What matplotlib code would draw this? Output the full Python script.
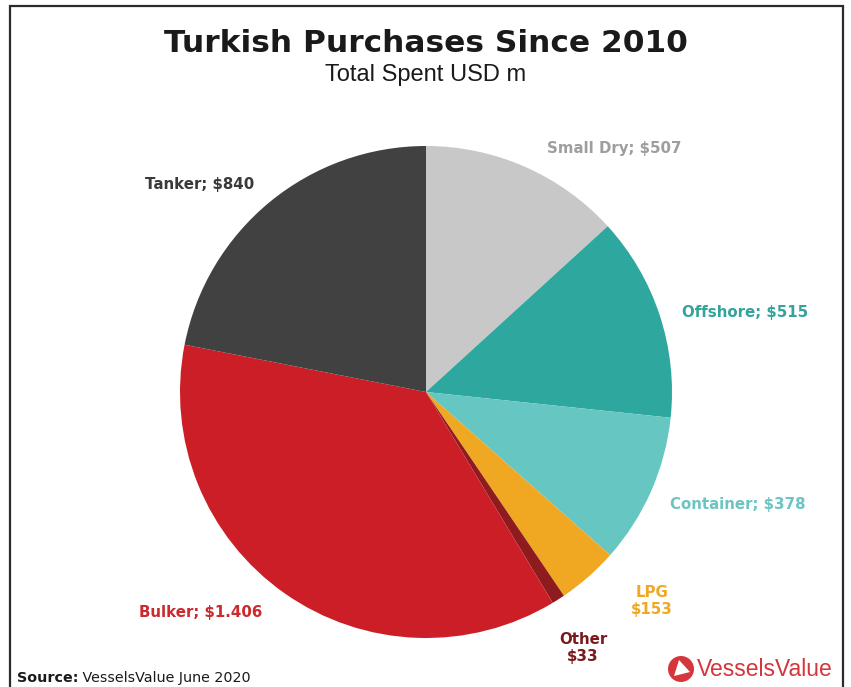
import matplotlib.pyplot as plt
from matplotlib.patches import Circle, Polygon

# spend by segment, USD m
segments = ['Small Dry', 'Offshore', 'Container', 'LPG', 'Other', 'Bulker', 'Tanker']
spent = [507, 515, 378, 153, 33, 1406, 840]
value_text = ['$507', '$515', '$378', '$153', '$33', '$1.406', '$840']
colors = ['#c8c8c8', '#2ea89f', '#66c6c2', '#f0a722', '#8e1b1e', '#cc1e26', '#414141']
label_colors = ['#9e9e9e', '#33a39b', '#6cc5c2', '#f0a722', '#7a1a1e', '#cc2a2e', '#3a3a3a']

# label anchor points (pixels from top-left) and layout per label
label_pos = [(614, 149), (745, 313), (738, 505), (652, 601), (583, 648), (201, 612), (200, 184)]
two_line = [False, False, False, True, True, False, False]

W, H = 851, 687
fig = plt.figure(figsize=(W / 100, H / 100), dpi=100)
ax = fig.add_axes([0, 0, 1, 1])

# frame around the chart
ax.plot([10, 10, 843, 843], [-5, H - 6, H - 6, -5], color='#2b2b2b', lw=1.6, solid_joinstyle='miter')

ax.pie(spent, colors=colors, startangle=90, counterclock=False,
       center=(426, H - 392), radius=246, frame=True,
       wedgeprops=dict(linewidth=0))
ax.set_xlim(0, W)
ax.set_ylim(0, H)
ax.set_aspect('equal')
ax.axis('off')

for name, val, col, (x, y), two in zip(segments, value_text, label_colors, label_pos, two_line):
    txt = f'{name}\n{val}' if two else f'{name}; {val}'
    ax.text(x, H - y, txt, ha='center', va='center', color=col,
            fontsize=10.8, fontweight='bold', family='DejaVu Sans',
            linespacing=1.15)

ax.text(426, H - 44, 'Turkish Purchases Since 2010', ha='center', va='center',
        fontsize=22.5, fontweight='bold', color='#1a1a1a', family='DejaVu Sans')
ax.text(426, H - 75, 'Total Spent USD m', ha='center', va='center',
        fontsize=17, color='#1a1a1a', family='Liberation Sans')

src = ax.text(17, H - 678, 'Source:', ha='left', va='center', fontsize=10.3,
              fontweight='bold', color='#1a1a1a', family='DejaVu Sans')
ax.annotate(' VesselsValue June 2020', xy=(1, 0.5), xycoords=src,
            ha='left', va='center', fontsize=10.3, color='#1a1a1a', family='DejaVu Sans')

# brand mark
ax.add_patch(Circle((681, H - 669), 13, color='#d5353b', lw=0))
ax.add_patch(Polygon([(674, H - 676), (690, H - 672), (679, H - 660)], closed=True,
                     color='white', lw=0))
ax.text(697, H - 669, 'VesselsValue', ha='left', va='center', fontsize=16.5,
        color='#d5353b', family='Liberation Sans')

fig.savefig('out.png', dpi=100, facecolor='white')
